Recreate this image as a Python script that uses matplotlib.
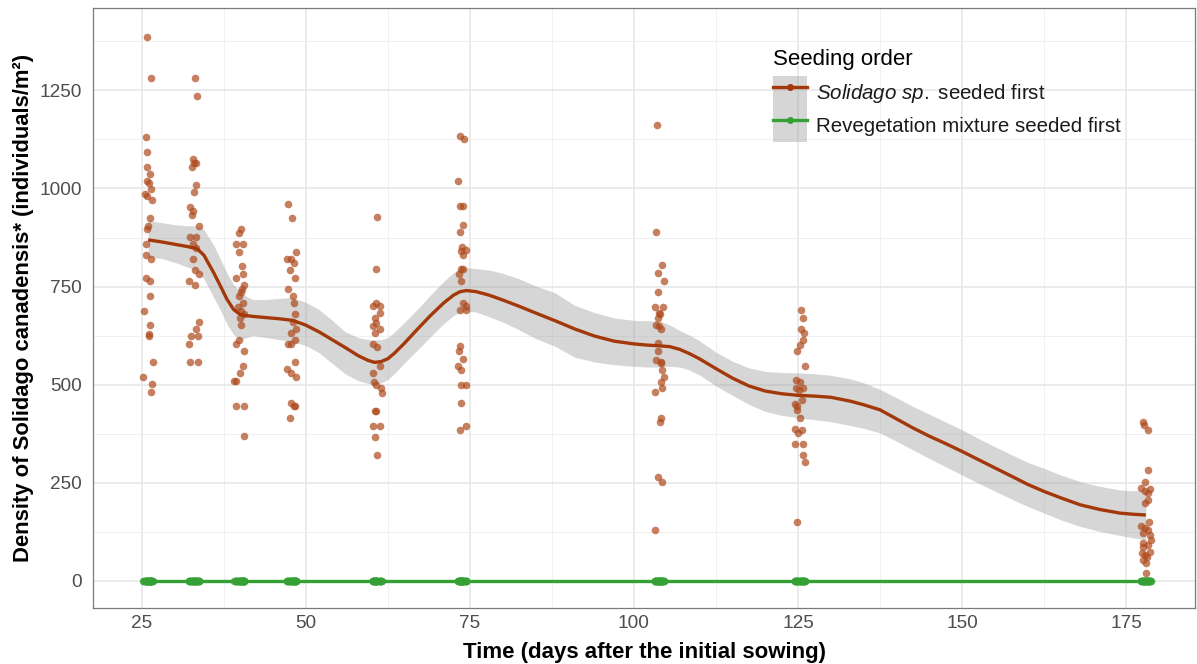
import matplotlib
matplotlib.use("Agg")
import matplotlib.pyplot as plt
from matplotlib.lines import Line2D
from matplotlib.patches import Patch
from matplotlib.ticker import MultipleLocator

plt.rcParams['font.family'] = ['Liberation Sans', 'DejaVu Sans']
plt.rcParams['mathtext.fontset'] = 'custom'
plt.rcParams['mathtext.rm'] = 'Liberation Sans'
plt.rcParams['mathtext.it'] = 'Liberation Sans:italic'
plt.rcParams['mathtext.bf'] = 'Liberation Sans:bold'

# ---- observed densities (Solidago seeded first), jittered day positions ----
sol_day = [
    25.9, 26.5, 25.6, 25.8, 25.9, 26.3, 25.9, 26.1, 26.4, 25.5, 25.9, 26.6, 26.3, 26.0, 25.9,
    25.6, 25.7, 26.5, 25.6, 26.3, 26.3, 25.4, 26.3, 26.1, 26.2, 26.7, 25.25, 26.6, 26.4,
    33.2, 33.4, 32.85, 33.35, 32.95, 32.7, 33.35, 33.0, 32.35, 32.85, 32.7, 33.7, 32.45, 33.35,
    32.85, 33.35, 32.85, 33.1, 33.7, 32.25, 33.1, 33.8, 33.3, 32.6, 33.65, 32.2, 32.45, 33.65,
    40.2, 39.85, 39.35, 40.45, 39.8, 40.3, 40.45, 39.45, 40.55, 40.35, 40.2, 39.85, 40.45, 39.7,
    40.2, 40.55, 40.05, 40.2, 39.8, 39.45, 40.6, 40.45, 39.95, 39.05, 39.45, 39.45, 40.55, 40.55,
    47.3, 47.85, 48.45, 47.15, 47.8, 48.15, 47.65, 48.3, 47.3, 48.05, 48.15, 48.3, 48.05, 48.55,
    47.8, 48.3, 47.35, 47.75, 48.3, 47.15, 47.8, 48.55, 47.8, 48.15, 48.35, 47.65,
    60.9, 60.75, 60.65, 60.25, 61.35, 61.25, 60.5, 60.75, 60.25, 61.35, 60.5, 60.25, 60.85,
    61.35, 60.25, 60.35, 60.75, 61.5, 61.65, 60.5, 60.75, 60.25, 61.35, 60.5, 60.85,
    73.45, 74.05, 73.2, 73.55, 73.9, 73.9, 73.45, 73.8, 74.45, 73.65, 74.0, 73.65, 73.9, 73.35,
    73.65, 73.9, 74.35, 73.45, 74.45, 73.45, 73.35, 74.0, 73.2, 73.65, 73.65, 74.35, 73.65,
    74.45, 73.45,
    103.45, 103.35, 104.35, 103.6, 104.6, 103.7, 103.2, 104.5, 103.85, 104.0, 103.75, 103.35,
    103.85, 104.1, 103.6, 103.7, 103.35, 104.1, 104.2, 104.25, 104.6, 104.2, 104.35, 103.2,
    104.1, 103.95, 103.7, 104.35, 103.25,
    125.5, 125.8, 125.5, 125.95, 125.8, 125.3, 124.9, 126.05, 124.7, 125.3, 124.7, 125.8,
    125.15, 125.55, 124.6, 124.8, 124.9, 125.25, 124.6, 125.55, 125.05, 124.6, 125.8, 125.8,
    126.1, 124.9,
    177.5, 177.7, 178.4, 178.4, 177.85, 177.25, 178.6, 177.8, 178.3, 178.4, 177.8, 178.55,
    177.25, 177.85, 178.4, 177.5, 178.6, 178.85, 177.6, 178.4, 177.5, 178.6, 177.4, 177.85,
    178.1, 177.6, 178.0, 177.95,
]
sol_density = [
    1385, 1282, 1131, 1093, 1056, 1038, 1019, 1013, 999, 985, 980, 971, 924, 905, 896,
    858, 830, 820, 773, 764, 726, 689, 651, 628, 623, 557, 520, 501, 482,
    1282, 1235, 1074, 1065, 1065, 1055, 1008, 990, 952, 943, 933, 905, 877, 877,
    858, 849, 820, 792, 783, 764, 755, 661, 642, 623, 623, 604, 557, 557,
    896, 886, 858, 858, 839, 802, 783, 773, 755, 745, 736, 726, 708, 698,
    689, 680, 670, 651, 614, 604, 586, 548, 529, 510, 510, 445, 445, 369,
    961, 924, 839, 820, 820, 811, 792, 773, 745, 726, 708, 680, 661, 642,
    633, 614, 604, 604, 557, 539, 529, 520, 454, 445, 445, 416,
    927, 795, 708, 700, 700, 683, 670, 657, 649, 642, 633, 604, 595,
    547, 530, 508, 500, 492, 480, 434, 434, 395, 395, 368, 320,
    1135, 1125, 1020, 955, 955, 906, 889, 851, 844, 841, 831, 796, 796, 783,
    765, 708, 700, 691, 690, 598, 585, 566, 547, 537, 500, 500, 453,
    395, 385,
    1162, 889, 804, 785, 765, 736, 699, 699, 683, 679, 670, 651,
    649, 642, 606, 585, 564, 558, 555, 538, 520, 508, 492, 481,
    415, 406, 264, 253, 130,
    690, 670, 642, 632, 615, 602, 585, 548, 511, 508, 492, 492,
    487, 462, 452, 445, 436, 415, 387, 385, 377, 350, 350, 320,
    303, 150,
    404, 398, 385, 283, 253, 236, 234, 228, 225, 207, 198, 151,
    140, 134, 130, 123, 117, 105, 96, 92, 87, 75, 72, 66,
    62, 54, 45, 20,
]

# ---- revegetation mixture seeded first: all zero ----
rev_day = sol_day
rev_density = [0] * len(rev_day)

# ---- smoothed trend with confidence band ----
smooth_day = [26, 28, 30, 32, 33.5, 34.5, 36, 37, 38, 39, 40, 41, 42, 44, 46, 48, 50, 52, 54,
              56, 58, 59.5, 60.5, 61.5, 62.5, 63.5, 65, 67, 69, 71, 72.5, 73.5, 74.5, 76, 78,
              80, 82.5, 85, 88, 91, 94, 97, 100, 102, 104, 105.5, 107, 108.5, 110, 112.5, 115,
              117.5, 120, 122.5, 125, 127.5, 130, 133, 135, 137.5, 140, 142.5, 145, 147.5, 150,
              152.5, 155, 158, 160, 162.5, 165, 168, 171, 174, 176, 178]
smooth_fit = [869, 864, 858, 852, 846, 830, 785, 752, 718, 692, 679, 676, 674, 671, 668, 664,
              652, 635, 615, 595, 574, 562, 557, 559, 566, 580, 605, 641, 676, 708, 728, 737,
              740, 737, 728, 716, 700, 683, 663, 642, 624, 611, 604, 601, 599, 597, 590, 579,
              566, 541, 517, 497, 484, 477, 473, 471, 468, 458, 449, 436, 413, 390, 369, 350,
              330, 309, 288, 263, 246, 228, 212, 194, 182, 173, 170, 168]
smooth_lo = [825, 822, 812, 800, 790, 770, 722, 690, 655, 628, 615, 620, 625, 620, 615, 610,
             600, 582, 555, 528, 510, 503, 501, 505, 513, 528, 555, 588, 622, 655, 676, 685,
             688, 685, 673, 660, 640, 618, 598, 570, 558, 551, 547, 545, 545, 547, 545, 537,
             525, 497, 473, 450, 432, 422, 416, 411, 406, 396, 389, 377, 356, 334, 312, 291,
             270, 249, 229, 205, 190, 173, 156, 139, 126, 116, 110, 105]
smooth_hi = [919, 913, 908, 905, 905, 895, 855, 820, 785, 755, 738, 725, 717, 717, 720, 722,
             710, 692, 665, 635, 620, 615, 614, 615, 620, 634, 658, 692, 728, 763, 785, 796,
             798, 796, 792, 784, 770, 752, 734, 702, 684, 670, 664, 663, 662, 652, 638, 626,
             612, 583, 560, 543, 534, 531, 530, 528, 524, 515, 505, 488, 467, 445, 425, 405,
             385, 363, 342, 318, 302, 287, 270, 253, 241, 232, 230, 230]

rev_smooth_day = [smooth_day[0], smooth_day[-1]]
rev_smooth_fit = [0, 0]

legend_title = "Seeding order"
legend_labels = [r'$\it{Solidago\ sp.}$ seeded first', 'Revegetation mixture seeded first']
x_label = "Time (days after the initial sowing)"
y_label = "Density of Solidago canadensis* (individuals/m\u00b2)"

col_sol = '#A3390A'
col_sol_pt = '#AE4A1C'
col_rev = '#35A135'

fig = plt.figure(figsize=(11.97, 6.64), dpi=100)
ax = fig.add_axes([0.0777, 0.0843, 0.9207, 0.9037])

ax.fill_between(smooth_day, smooth_lo, smooth_hi, color='#999999', alpha=0.4, lw=0, zorder=2)
ax.scatter(sol_day, sol_density, s=30, color=col_sol_pt, alpha=0.7, lw=0, zorder=3)
ax.scatter(rev_day, rev_density, s=30, color=col_rev, alpha=0.8, lw=0, zorder=3)
ax.plot(smooth_day, smooth_fit, color=col_sol, lw=2.4, zorder=4,
        solid_capstyle='butt', solid_joinstyle='round')
ax.plot(rev_smooth_day, rev_smooth_fit, color=col_rev, lw=2.4, zorder=4, solid_capstyle='butt')

ax.set_xlim(17.6, 185.5)
ax.set_ylim(-69, 1460)
ax.xaxis.set_major_locator(MultipleLocator(25))
ax.xaxis.set_minor_locator(MultipleLocator(12.5))
ax.yaxis.set_major_locator(MultipleLocator(250))
ax.yaxis.set_minor_locator(MultipleLocator(125))
ax.grid(which='major', color='#e6e6e6', lw=1.1, zorder=0)
ax.grid(which='minor', color='#f0f0f0', lw=0.7, zorder=0)
ax.set_axisbelow(True)
ax.tick_params(which='both', length=0, labelsize=13.7, labelcolor='#4d4d4d')
ax.tick_params(axis='y', pad=8)
ax.tick_params(axis='x', pad=5)
for sp in ax.spines.values():
    sp.set_color('#7a7a7a')
    sp.set_linewidth(0.9)

ax.set_xlabel(x_label, fontsize=16, fontweight='bold', labelpad=7)
ax.set_ylabel(y_label, fontsize=15.8, fontweight='bold', labelpad=4)

h1 = (Patch(facecolor='#999999', alpha=0.4, edgecolor='none'),
      Line2D([], [], color=col_sol, lw=2.4, marker='o', markersize=4))
h2 = (Patch(facecolor='#999999', alpha=0.4, edgecolor='none'),
      Line2D([], [], color=col_rev, lw=2.4, marker='o', markersize=4))
leg = ax.legend([h1, h2], legend_labels,
                title=legend_title, loc='upper left', bbox_to_anchor=(0.6, 0.962),
                frameon=False, fontsize=14.8, title_fontsize=16,
                handlelength=1.65, handleheight=2.1, labelspacing=0.0, handletextpad=0.45,
                alignment='left')
leg._legend_box.sep = 4
for t in leg.get_texts():
    t.set_color('#1a1a1a')

fig.savefig('out.png', dpi=100)
